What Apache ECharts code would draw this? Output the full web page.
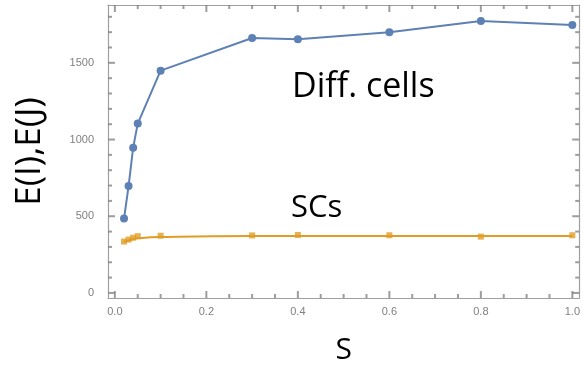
<!DOCTYPE html>
<html>
<head>
<meta charset="utf-8">
<script src="https://cdn.jsdelivr.net/npm/echarts@6/dist/echarts.min.js"></script>
<style>html,body{margin:0;padding:0;background:#fff}#c{width:583px;height:371px}</style>
</head>
<body>
<div id="c"></div>
<script>
const S = [0.02, 0.03, 0.04, 0.05, 0.1, 0.3, 0.4, 0.6, 0.8, 1.0];
const diffCells = [485, 697, 947, 1104, 1449, 1662, 1654, 1699, 1773, 1747];
const scs = [335, 348, 360, 370, 373, 375, 378, 376, 367, 376];
const scsFit = [332, 342, 350, 356, 364, 371, 371, 371, 371, 371];
const xMajor = [0, 0.2, 0.4, 0.6, 0.8, 1.0];
const xMinor = [0.05, 0.1, 0.15, 0.25, 0.3, 0.35, 0.45, 0.5, 0.55, 0.65, 0.7, 0.75, 0.85, 0.9, 0.95];
const yMajor = [0, 500, 1000, 1500];
const yMinor = [100, 200, 300, 400, 600, 700, 800, 900, 1100, 1200, 1300, 1400, 1600, 1700, 1800];

const X_MIN = -0.015, X_MAX = 1.015, Y_MIN = -33, Y_MAX = 1877;
const frameColor = '#a0a0a0';
const tickColor = '#858585';
const labelColor = '#808080';
const blue = '#5E81B5';
const orange = '#E19C24';
const MAJ = 7, MIN = 4, TW = 2;

function xTicks(yEdge, dir) {
  return [].concat(
    xMajor.map(v => ({ value: [v, yEdge], symbolSize: [TW, MAJ], symbolOffset: [0, dir * MAJ / 2] })),
    xMinor.map(v => ({ value: [v, yEdge], symbolSize: [TW, MIN], symbolOffset: [0, dir * MIN / 2] }))
  );
}
function yTicks(xEdge, dir) {
  return [].concat(
    yMajor.map(v => ({ value: [xEdge, v], symbolSize: [MAJ, TW], symbolOffset: [dir * MAJ / 2, 0] })),
    yMinor.map(v => ({ value: [xEdge, v], symbolSize: [MIN, TW], symbolOffset: [dir * MIN / 2, 0] }))
  );
}
function tickSeries(data) {
  return { type: 'scatter', symbol: 'rect', data: data, silent: true, clip: false, z: 5,
    itemStyle: { color: tickColor } };
}

const chart = echarts.init(document.getElementById('c'));
chart.setOption({
  animation: false,
  grid: { left: 108, right: 3, top: 5, bottom: 73 },
  xAxis: [{
    type: 'value', position: 'bottom', min: X_MIN, max: X_MAX,
    axisLine: { show: true, onZero: false, lineStyle: { color: frameColor, width: 1.2 } },
    axisTick: { show: false },
    axisLabel: { customValues: xMajor, color: labelColor, fontSize: 11, fontFamily: 'Liberation Sans', margin: 8,
      formatter: v => v.toFixed(1) },
    splitLine: { show: false },
    name: 'S', nameLocation: 'middle', nameGap: 37,
    nameTextStyle: { fontSize: 30, fontFamily: 'Open Sans', color: '#000' }
  }, {
    type: 'value', position: 'top', min: X_MIN, max: X_MAX,
    axisLine: { show: true, onZero: false, lineStyle: { color: frameColor, width: 1.2 } },
    axisTick: { show: false }, axisLabel: { show: false }, splitLine: { show: false }
  }],
  yAxis: [{
    type: 'value', position: 'left', min: Y_MIN, max: Y_MAX,
    axisLine: { show: true, onZero: false, lineStyle: { color: frameColor, width: 1.2 } },
    axisTick: { show: false },
    axisLabel: { customValues: yMajor, color: labelColor, fontSize: 11, fontFamily: 'Liberation Sans', margin: 14,
      formatter: v => String(v) },
    splitLine: { show: false },
    name: 'E(I),E(J)', nameLocation: 'middle', nameGap: 60,
    nameTextStyle: { fontSize: 35, fontFamily: 'Open Sans', color: '#000' }
  }, {
    type: 'value', position: 'right', min: Y_MIN, max: Y_MAX,
    axisLine: { show: true, onZero: false, lineStyle: { color: frameColor, width: 1.2 } },
    axisTick: { show: false }, axisLabel: { show: false }, splitLine: { show: false }
  }],
  series: [
    tickSeries(xTicks(Y_MIN, -1)),
    tickSeries(xTicks(Y_MAX, 1)),
    tickSeries(yTicks(X_MIN, 1)),
    tickSeries(yTicks(X_MAX, -1)),
    { type: 'line', name: 'Diff. cells',
      data: S.map((s, i) => [s, diffCells[i]]),
      symbol: 'circle', symbolSize: 8,
      lineStyle: { color: blue, width: 2 }, itemStyle: { color: blue }, z: 3 },
    { type: 'line', name: 'SCs fit',
      data: S.map((s, i) => [s, scsFit[i]]), smooth: true, showSymbol: false,
      lineStyle: { color: orange, width: 2 }, z: 2 },
    { type: 'scatter', name: 'SCs',
      data: S.map((s, i) => [s, scs[i]]),
      symbol: 'rect', symbolSize: 6, itemStyle: { color: orange }, z: 2 }
  ],
  graphic: [
    { type: 'text', left: 292, top: 70, style: { text: 'Diff. cells', font: '34px "Open Sans"', fill: '#000' } },
    { type: 'text', left: 291, top: 193, style: { text: 'SCs', font: '31px "Open Sans"', fill: '#000' } }
  ]
});
</script>
</body>
</html>
